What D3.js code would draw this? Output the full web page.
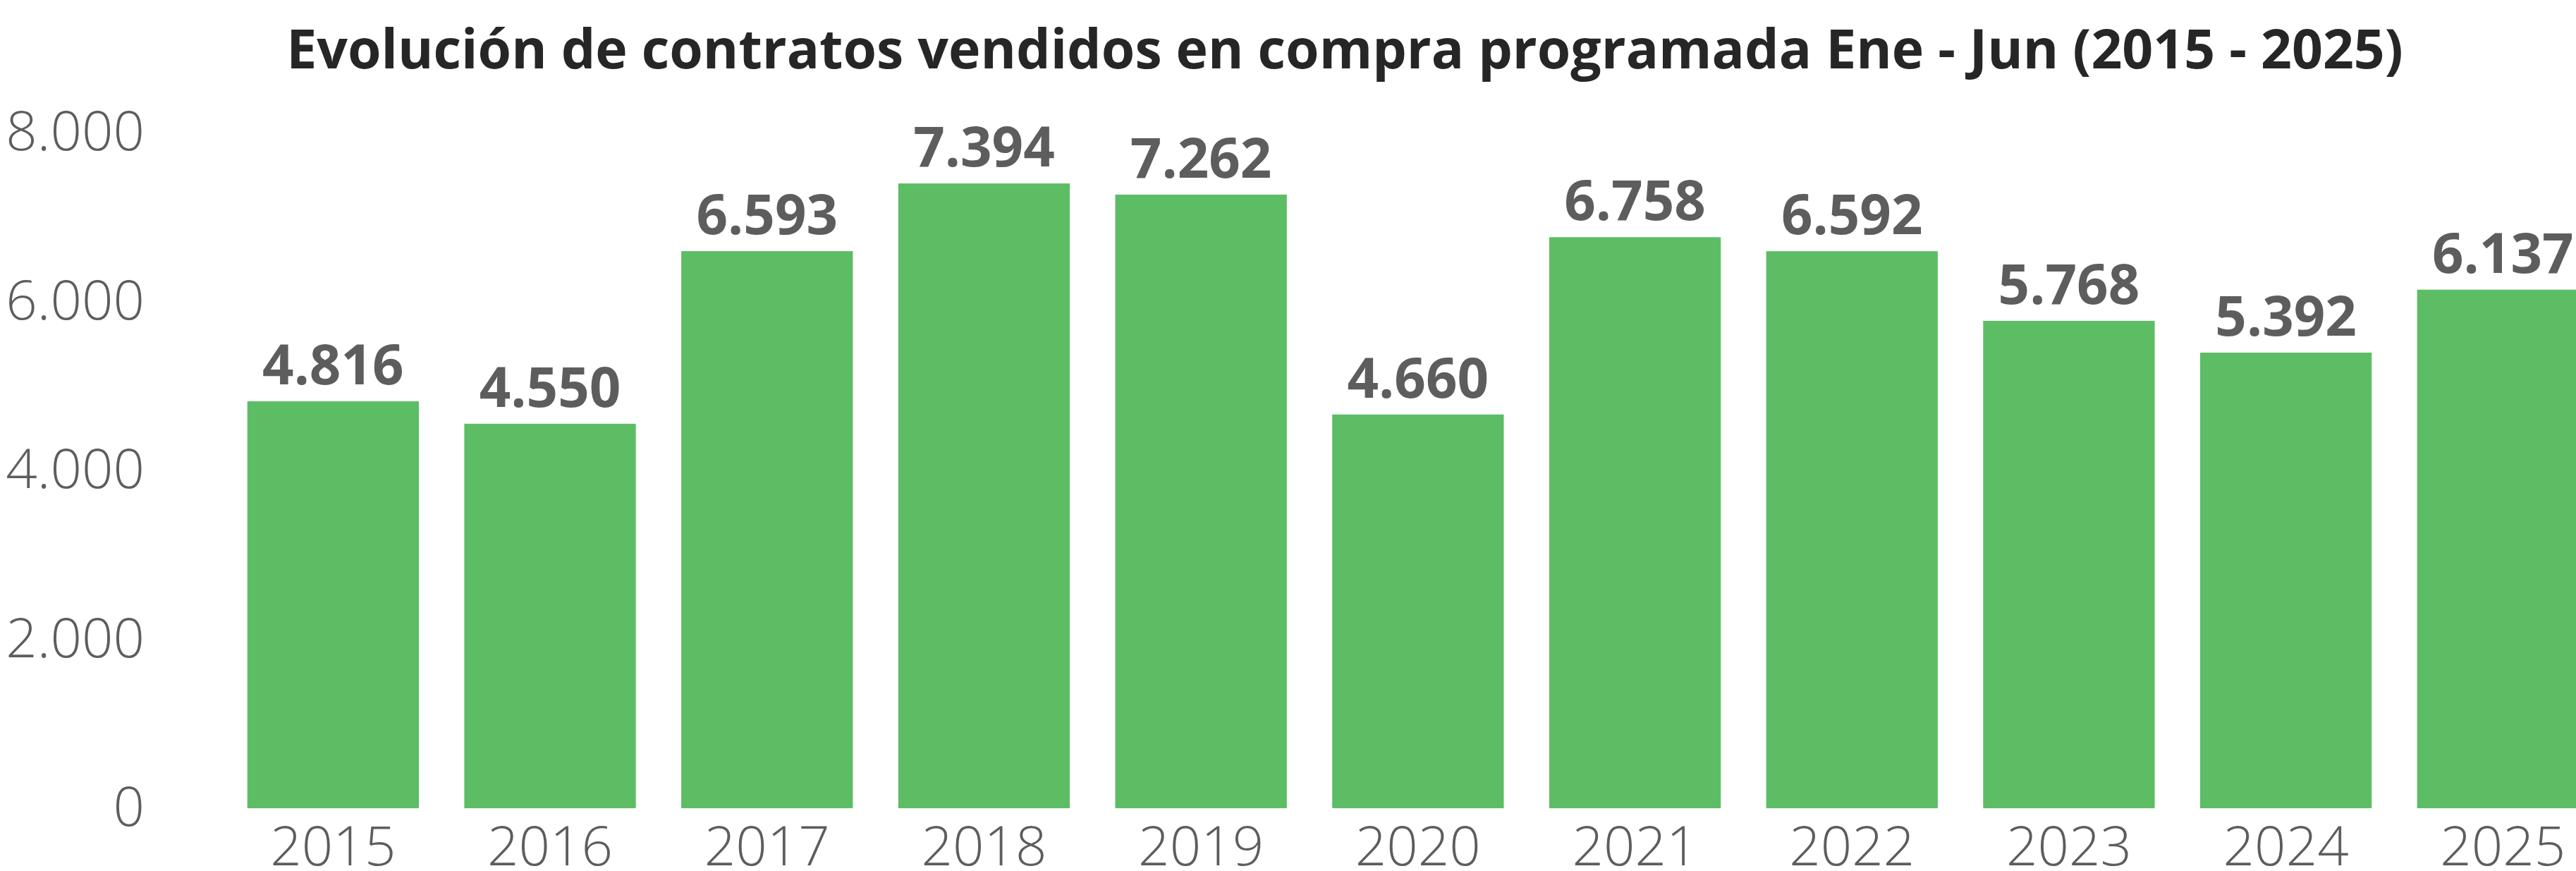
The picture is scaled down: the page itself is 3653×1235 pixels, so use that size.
<!DOCTYPE html>
<html>
<head>
<meta charset="utf-8">
<script src="https://cdn.jsdelivr.net/npm/d3@7"></script>
<style>
  body { margin: 0; background: #fff; }
  svg { display: block; }
</style>
</head>
<body>
<svg id="chart" width="3653" height="1235"></svg>
<script>
// chart data
const years = ["2015", "2016", "2017", "2018", "2019", "2020", "2021", "2022", "2023", "2024", "2025"];
const contratos = [4816, 4550, 6593, 7394, 7262, 4660, 6758, 6592, 5768, 5392, 6137];
const yTicks = [0, 2000, 4000, 6000, 8000];
const titleText = "Evolución de contratos vendidos en compra programada Ene - Jun (2015 - 2025)";

const svg = d3.select("#chart");
const svgWidth = 3653;
const svgHeight = 1235;

// plot area (right side is clipped, like the original)
const baseY = 1146;
const topY = 187.5;
const fmt = (v) => d3.format(",")(v).replace(/,/g, ".");

const x = d3.scaleBand()
  .domain(years)
  .range([318.5, 3703.2])
  .paddingInner(0.2093)
  .paddingOuter(0.1047);

const y = d3.scaleLinear().domain([0, 8000]).range([baseY, topY]);

// bars
svg.append("g")
  .selectAll("rect")
  .data(contratos)
  .enter()
  .append("rect")
  .attr("x", (d, i) => x(years[i]))
  .attr("y", (d) => y(d))
  .attr("width", x.bandwidth())
  .attr("height", (d) => baseY - y(d))
  .style("fill", "#5dbd65");

// value labels on top of bars
svg.append("g")
  .selectAll("text")
  .data(contratos)
  .enter()
  .append("text")
  .attr("x", (d, i) => x(years[i]) + x.bandwidth() / 2)
  .attr("y", (d) => y(d) - 24)
  .attr("text-anchor", "middle")
  .style("font-family", "'Open Sans', 'Noto Sans', sans-serif")
  .style("font-weight", 700)
  .style("font-size", "78px")
  .style("fill", "#5d5d5d")
  .text((d) => fmt(d));

// y axis
const yAxis = svg.append("g")
  .attr("transform", "translate(215,0)")
  .call(d3.axisLeft(y).tickValues(yTicks).tickSize(0).tickPadding(10).tickFormat(fmt));
yAxis.select(".domain").remove();
yAxis.selectAll("text")
  .style("font-family", "'Open Sans', 'Noto Sans', sans-serif")
  .style("font-weight", 300)
  .style("font-size", "78px")
  .style("fill", "#5d5d5d");

// x axis
const xAxis = svg.append("g")
  .attr("transform", `translate(0,${baseY})`)
  .call(d3.axisBottom(x).tickSize(0).tickPadding(26));
xAxis.select(".domain").remove();
xAxis.selectAll("text")
  .style("font-family", "'Open Sans', 'Noto Sans', sans-serif")
  .style("font-weight", 300)
  .style("font-size", "78px")
  .style("fill", "#5d5d5d");

// title, sized to span the same width as the original
const title = svg.append("text")
  .attr("x", 1907)
  .attr("y", 97)
  .attr("text-anchor", "middle")
  .style("font-family", "'Open Sans', 'Noto Sans', sans-serif")
  .style("font-weight", 700)
  .style("font-size", "80px")
  .style("fill", "#262626")
  .text(titleText);
const w = title.node().getComputedTextLength();
title.style("font-size", (80 * 3002 / w).toFixed(1) + "px");
</script>
</body>
</html>
